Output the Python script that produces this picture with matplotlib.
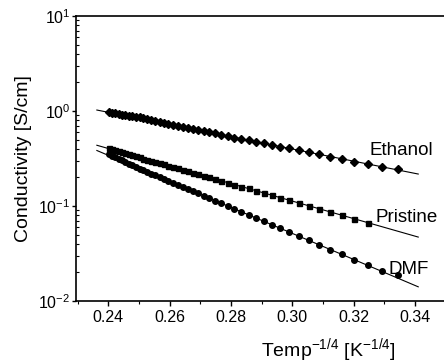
import matplotlib
matplotlib.use("Agg")
import matplotlib.pyplot as plt
from matplotlib.ticker import LogLocator, LogFormatterMathtext, MultipleLocator, NullFormatter

plt.rcParams['font.family'] = ['Liberation Sans', 'DejaVu Sans']
plt.rcParams['mathtext.fontset'] = 'custom'
plt.rcParams['mathtext.rm'] = 'Liberation Sans'
plt.rcParams['mathtext.it'] = 'Liberation Sans:italic'
plt.rcParams['mathtext.bf'] = 'Liberation Sans:bold'
plt.rcParams['mathtext.default'] = 'regular'

# ---- data ----
x_all = [0.24028, 0.24129, 0.24232, 0.24338, 0.24446, 0.24557, 0.24670, 0.24785,
         0.24903, 0.25025, 0.25148, 0.25276, 0.25407, 0.25541, 0.25679, 0.25820,
         0.25965, 0.26115, 0.26269, 0.26428, 0.26591, 0.26760, 0.26935, 0.27115,
         0.27301, 0.27494, 0.27694, 0.27902, 0.28117, 0.28341, 0.28575, 0.28818,
         0.29071, 0.29337, 0.29616, 0.29907, 0.30213, 0.30537, 0.30879, 0.31240,
         0.31623, 0.32031, 0.32467, 0.32934, 0.33437]

ethanol = [0.966, 0.955, 0.944, 0.929, 0.912, 0.897, 0.884, 0.878, 0.872, 0.866,
           0.852, 0.831, 0.803, 0.778, 0.760, 0.744, 0.731, 0.712, 0.696, 0.679,
           0.664, 0.646, 0.630, 0.613, 0.597, 0.580, 0.559, 0.542, 0.521, 0.505,
           0.490, 0.476, 0.461, 0.441, 0.423, 0.404, 0.388, 0.367, 0.351, 0.331,
           0.315, 0.294, 0.278, 0.257, 0.243]

pristine = [0.405, 0.396, 0.387, 0.378, 0.369, 0.360, 0.351, 0.342, 0.333, 0.325,
            0.316, 0.307, 0.299, 0.290, 0.282, 0.274, 0.266, 0.257, 0.249, 0.241,
            0.233, 0.225, 0.216, 0.208, 0.200, 0.192, 0.184, 0.176, 0.168, 0.160,
            0.153, 0.145, 0.137, 0.130, 0.122, 0.115, 0.108, 0.1005, 0.0935, 0.0866,
            0.0798, 0.0732, 0.0667]

dmf = [0.352, 0.340, 0.328, 0.316, 0.304, 0.292, 0.280, 0.269, 0.258, 0.248,
       0.238, 0.229, 0.219, 0.210, 0.201, 0.193, 0.184, 0.175, 0.167, 0.159,
       0.151, 0.143, 0.1355, 0.128, 0.1207, 0.1136, 0.1066, 0.0999, 0.0933, 0.0870,
       0.0808, 0.0748, 0.0691, 0.0635, 0.0582, 0.0531, 0.0482, 0.0435, 0.0390, 0.0348,
       0.0309, 0.0272, 0.0237, 0.0207, 0.0186]

fit_x = [0.2363, 0.3411]
fit_ethanol = [1.024, 0.217]
fit_pristine = [0.436, 0.0471]
fit_dmf = [0.384, 0.0141]

labels = ["Ethanol", "Pristine", "DMF"]
label_x = [0.3253, 0.3273, 0.3315]
label_y = [0.344, 0.0679, 0.0191]

# ---- figure ----
fig = plt.figure(figsize=(4.44, 3.63), dpi=100)
ax = fig.add_axes([0.1712, 0.1708, 0.8288, 0.7851])

ax.plot(fit_x, fit_ethanol, color='black', lw=0.8)
ax.plot(fit_x, fit_pristine, color='black', lw=0.8)
ax.plot(fit_x, fit_dmf, color='black', lw=0.8)

ax.plot(x_all, ethanol, linestyle='none', marker='D', ms=3.8, color='black')
ax.plot(x_all[:len(pristine)], pristine, linestyle='none', marker='s', ms=3.6, color='black')
ax.plot(x_all, dmf, linestyle='none', marker='o', ms=4.0, color='black')

for t, tx, ty in zip(labels, label_x, label_y):
    ax.text(tx, ty, t, fontsize=13.5, ha='left', va='baseline')

ax.set_yscale('log')
ax.set_ylim(0.01, 10)
ax.set_xlim(0.2295, 0.3495)

ax.xaxis.set_major_locator(MultipleLocator(0.02))
ax.xaxis.set_minor_locator(MultipleLocator(0.01))
ax.yaxis.set_major_locator(LogLocator(base=10, numticks=10))
ax.yaxis.set_major_formatter(LogFormatterMathtext())
ax.yaxis.set_minor_locator(LogLocator(base=10, subs=range(2, 10), numticks=20))
ax.yaxis.set_minor_formatter(NullFormatter())

ax.tick_params(axis='x', which='major', direction='out', length=3.5, width=1.0,
               labelsize=11.5, pad=3)
ax.tick_params(axis='x', which='minor', direction='out', length=2, width=0.8)
ax.tick_params(axis='y', which='major', direction='out', length=3, width=1.0,
               labelsize=11.5, pad=1)
ax.tick_params(axis='y', which='minor', direction='in', length=2, width=0.8)

for s in ['left', 'bottom', 'top']:
    ax.spines[s].set_linewidth(1.2)
ax.spines['right'].set_visible(False)

ax.set_ylabel('Conductivity [S/cm]', fontsize=14)
ax.yaxis.set_label_coords(-0.12, 0.5)

fig.text(328 / 444, 7 / 363, r'Temp$^{-1/4}$ [K$^{-1/4}$]', fontsize=14,
         ha='center', va='baseline')

fig.savefig('out.png', dpi=100)
